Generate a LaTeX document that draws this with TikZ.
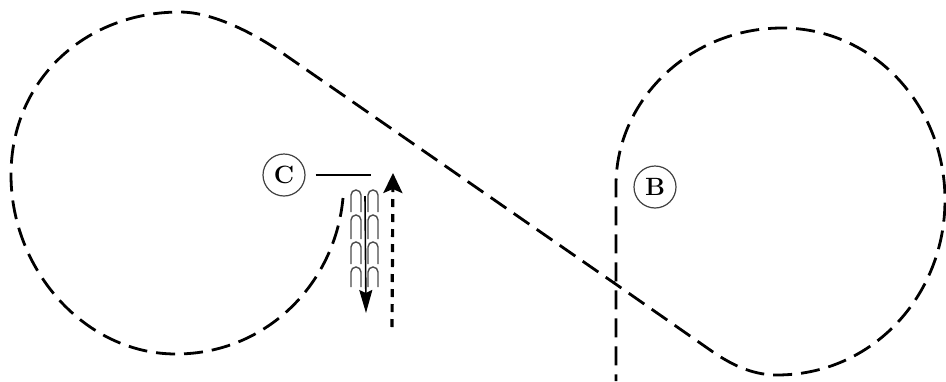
\documentclass[tikz,border=0pt]{standalone}
\usepackage{amsmath,amssymb}
\usetikzlibrary{arrows.meta,positioning,calc}

\begin{document}
\begin{tikzpicture}[x=1pt,y=-1pt,
    lab/.style={circle,draw=black!75,line width=1.2pt,minimum size=42pt,inner sep=0,font=\fontsize{25}{25}\selectfont\bfseries},
    route/.style={line width=2.8pt,dash pattern=on 19pt off 9pt},
    path/.style={line width=3.2pt,dash pattern=on 8pt off 7pt,-{Stealth[length=20pt,width=19pt,inset=4pt]}},
    hold/.style={line width=1.4pt,black!70}]
    \useasboundingbox (0,0) rectangle (946,381);
    \node[lab] (C) at (284,175){C};
    \node[lab] (B) at (655,187){B};
    \coordinate (Ce) at (371,175);
    \coordinate (ua) at (392,327);
    \coordinate (ub) at (393,173);
    \coordinate (da) at (365,196);
    \coordinate (db) at (366,313);
    \draw[line width=2.6pt,shorten <=10pt] (C.east) -- (Ce);
    \draw[path] (ua) -- (ub);
    \draw[line width=1.6pt,-{Stealth[length=23pt,width=13pt,inset=3pt]}] (da) -- (db);
    \foreach \y/\h in {190/22,215/24,242/22,267/20}{
      \draw[hold] (351,\y+\h) -- (351,\y+5) arc (180:360:5 and 5) -- (361,\y+\h);
      \draw[hold] (368,\y+\h) -- (368,\y+5) arc (180:360:5 and 5) -- (378,\y+\h);
    }
    \draw[route] (343,198) .. controls (335,285) and (265,354) .. (176,354)
      .. controls (85,354) and (11,270) .. (11,175)
      .. controls (11,80) and (85,12) .. (180,12)
      .. controls (208,12) and (245,28) .. (278,50)
      -- (617,285) -- (713,352)
      .. controls (735,367) and (755,375) .. (777,375)
      .. controls (872,375) and (945,296) .. (945,200)
      .. controls (945,105) and (873,28) .. (782,28)
      .. controls (690,28) and (616,100) .. (616,185)
      -- (616,381);
  \end{tikzpicture}
\end{document}
